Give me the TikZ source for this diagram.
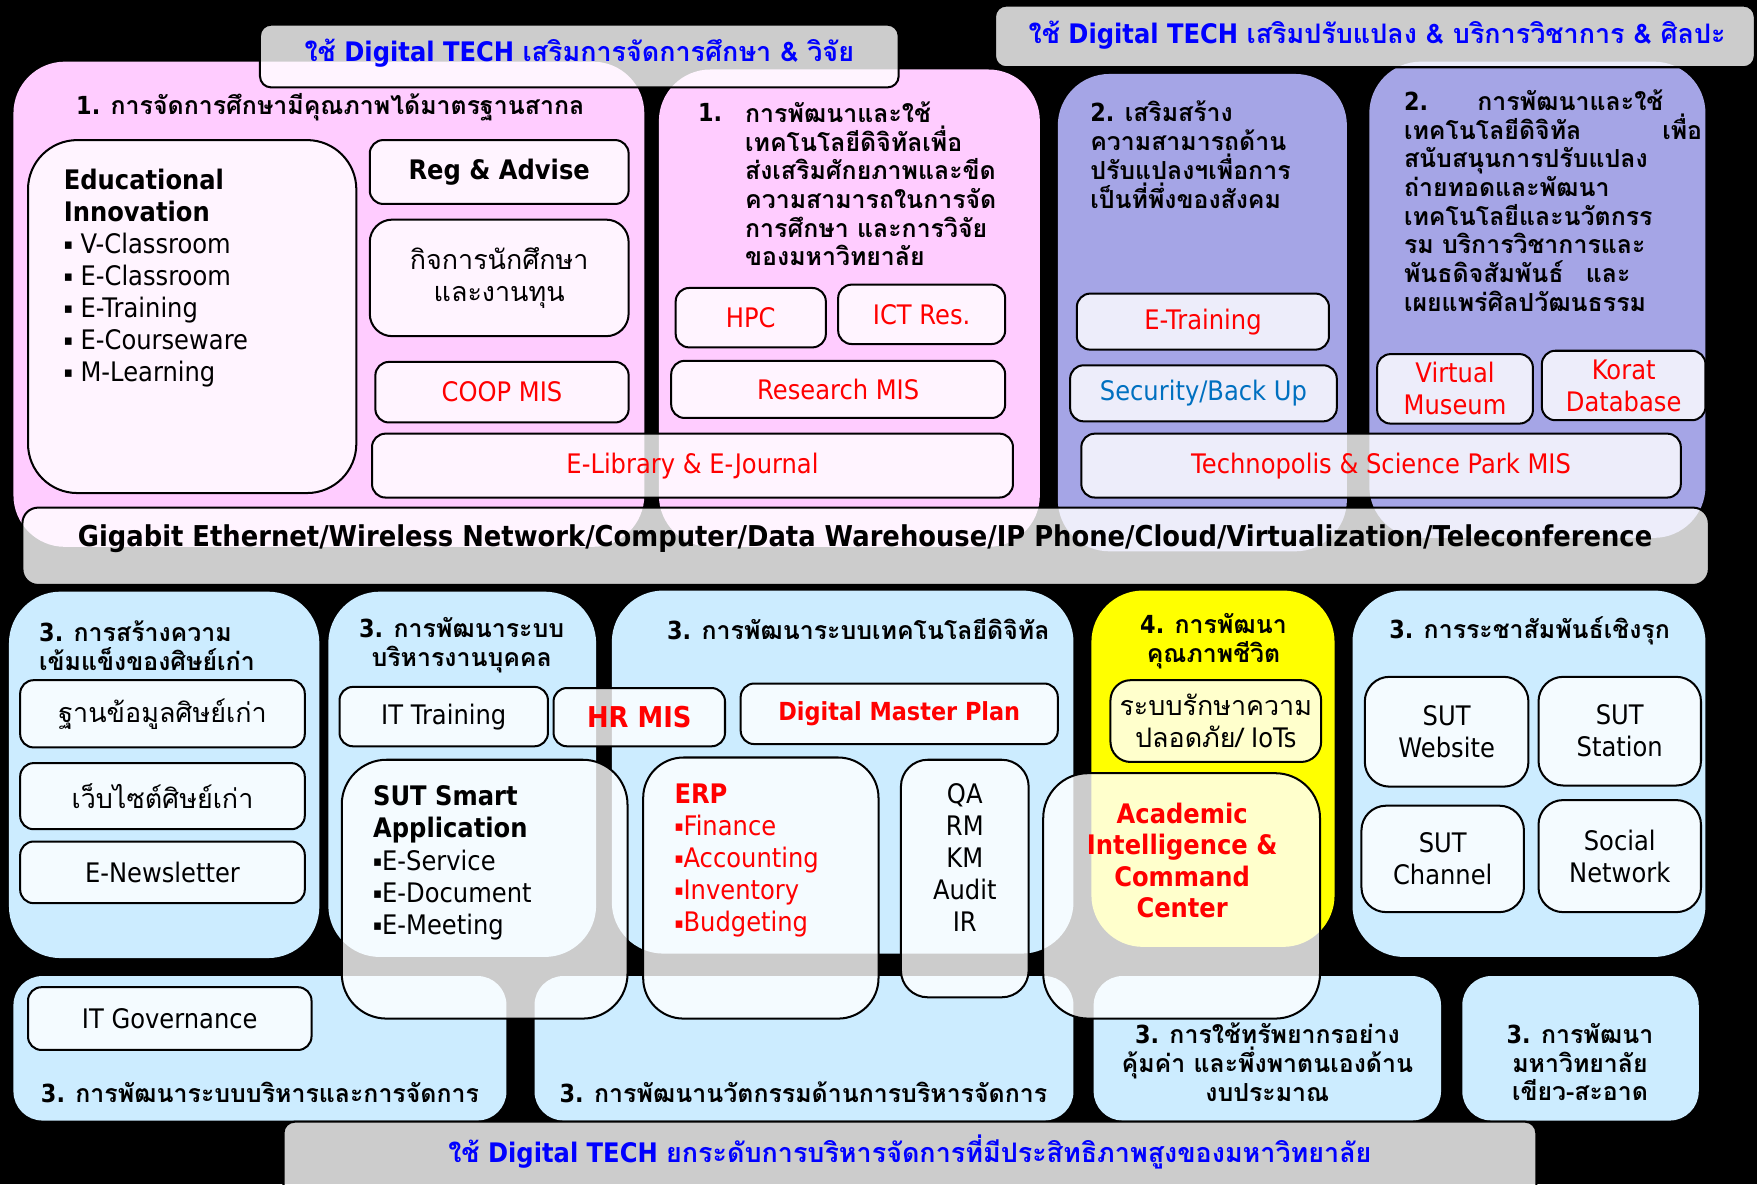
\documentclass[tikz,border=0pt]{standalone}
\usepackage{graphicx}
\usepackage{fontspec}
\setmainfont{DejaVu Sans}[FakeStretch=0.9]
\newfontfamily\thai[Script=Thai]{Loma}
\definecolor{pinkbox}{HTML}{FFCCFF}
\definecolor{lavbox}{HTML}{A5A5E6}
\definecolor{bluebox}{HTML}{CCECFF}
\definecolor{ylwbox}{HTML}{FFFF00}
\definecolor{txtred}{HTML}{FF0000}
\definecolor{txtblue}{HTML}{0000FF}
\definecolor{secblue}{HTML}{0070C0}
\newcommand\bx[7]{\node[#2, minimum width={(#5-#3)*0.5pt}, minimum height={(#6-#4)*0.5pt}] (#1) at ({(#3+#5)/2},{(#4+#6)/2}) {#7};}
\newcommand\fN{\fontsize{12}{14.3}\selectfont}
\newcommand\fT{\fontsize{11.1}{12.8}\selectfont\bfseries}
\newcommand\fB{\fontsize{12}{14}\selectfont\bfseries}
\newcommand\bul{\raisebox{0.25ex}{\scalebox{0.55}{▪}}}
\tikzset{
  every node/.style={inner sep=0pt, outer sep=0pt},
  big/.style={rounded corners=23pt, draw=none},
  wbox/.style={draw=black, line width=0.9pt, fill=white, fill opacity=0.8, draw opacity=1, text opacity=1, rounded corners=6pt, align=center, font=\fN},
  banner/.style={wbox, rounded corners=5pt},
  ttl/.style={font=\fT, align=left},
  body/.style={font=\fN, align=left},
  redt/.style={text=txtred},
}
\begin{document}
\begin{tikzpicture}[x=0.5pt,y=-0.5pt]
\useasboundingbox (0,0) rectangle (1568,1057);
\fill[black] (0,0) rectangle (1568,1057);
% ---------- big coloured boxes
\bx{P1}{big,fill=pinkbox}{12}{55}{575}{488}{}
\bx{P2}{big,fill=pinkbox}{588}{62}{928}{488}{}
\bx{L1}{big,fill=lavbox}{944}{66}{1202}{492}{}
\bx{L2}{big,fill=lavbox}{1222}{55}{1522}{480}{}
\bx{A}{big,fill=bluebox}{8}{528}{285}{855}{}
\bx{B}{big,fill=bluebox}{293}{528}{532}{854}{}
\bx{C}{big,fill=bluebox}{546}{527}{958}{851}{}
\bx{D}{big,fill=ylwbox}{974}{527}{1191}{845}{}
\bx{E}{big,fill=bluebox}{1207}{527}{1522}{854}{}
\bx{F}{big,rounded corners=13pt,fill=bluebox}{12}{871}{452}{1000}{}
\bx{G}{big,rounded corners=13pt,fill=bluebox}{477}{871}{958}{1000}{}
\bx{H}{big,rounded corners=13pt,fill=bluebox}{976}{871}{1286}{1000}{}
\bx{I}{big,rounded corners=13pt,fill=bluebox}{1305}{871}{1516}{1000}{}
% ---------- banners
\bx{bn1}{banner}{232}{22}{802}{78}{}
\bx{bn2}{banner}{888}{5}{1566}{60}{}
% ---------- top inner boxes
\bx{EI}{wbox,rounded corners=22pt}{25}{125}{318}{440}{}
\bx{reg}{wbox,font=\fB}{330}{125}{561}{182}{Reg \& Advise}
\bx{kit}{wbox,rounded corners=10pt,font={\thai\fN}}{330}{196}{561}{300}{กิจการนักศึกษา\\และงานทุน}
\bx{coop}{wbox,redt}{335}{323}{561}{377}{COOP MIS}
\bx{elib}{wbox,redt}{332}{387}{904}{444}{E-Library \& E-Journal}
\bx{hpc}{wbox,redt}{603}{257}{737}{310}{HPC}
\bx{ict}{wbox,redt}{748}{254}{897}{307}{ICT Res.}
\bx{rmis}{wbox,redt}{599}{322}{897}{373}{Research MIS}
\bx{etr}{wbox,redt}{961}{262}{1186}{312}{E-Training}
\bx{sec}{wbox,text=secblue}{955}{326}{1193}{376}{Security/Back Up}
\bx{vm}{wbox,redt}{1229}{316}{1368}{378}{Virtual\\Museum}
\bx{kd}{wbox,redt}{1376}{313}{1522}{375}{Korat\\Database}
\bx{tech}{wbox,redt}{965}{387}{1500}{444}{Technopolis \& Science Park MIS}
% ---------- gigabit bar
\bx{giga}{banner,rounded corners=7pt}{20}{453}{1525}{522}{}
% ---------- lower inner boxes
\bx{al1}{wbox,font={\thai\fN}}{18}{607}{272}{667}{ฐานข้อมูลศิษย์เก่า}
\bx{al2}{wbox,font={\thai\fN}}{18}{681}{272}{740}{เว็บไซต์ศิษย์เก่า}
\bx{al3}{wbox}{18}{751}{272}{806}{E-Newsletter}
\bx{itt}{wbox}{303}{613}{489}{666}{IT Training}
\bx{hr}{wbox,redt,font=\fontsize{12.8}{14}\selectfont\bfseries}{494}{614}{647}{666}{HR MIS}
\bx{dmp}{wbox,redt,font=\fT}{661}{610}{944}{664}{Digital Master Plan}
\bx{safe}{wbox,rounded corners=9pt}{991}{607}{1179}{680}{{\thai ระบบรักษาความ}\\{\thai ปลอดภัย/} IoTs}
\bx{web}{wbox,rounded corners=11pt}{1218}{604}{1364}{702}{SUT\\Website}
\bx{sta}{wbox,rounded corners=11pt}{1373}{604}{1518}{701}{SUT\\Station}
\bx{chan}{wbox,rounded corners=11pt}{1215}{719}{1360}{814}{SUT\\Channel}
\bx{soc}{wbox,rounded corners=11pt}{1373}{714}{1518}{814}{Social\\Network}
\bx{itg}{wbox}{25}{881}{278}{937}{IT Governance}
\bx{suts}{wbox,rounded corners=20pt}{305}{678}{560}{909}{}
\bx{erp}{wbox,rounded corners=18pt}{574}{676}{784}{909}{}
\bx{qa}{wbox,rounded corners=12pt}{804}{678}{918}{890}{}
\bx{aic}{wbox,rounded corners=20pt}{931}{690}{1178}{909}{}
\bx{bnb}{banner}{253}{1001}{1371}{1068}{}
% ---------- texts
\node[font=\fB, text=txtblue] (bn1t) at (517,47) {{\thai ใช้} Digital TECH {\thai เสริมการจัดการศึกษา \& วิจัย}};
\node[font=\fB, text=txtblue] (bn2t) at (1229,31) {{\thai ใช้} Digital TECH {\thai เสริมปรับแปลง \& บริการวิชาการ \& ศิลปะ}};
\node[font=\fB, text=txtblue] (bnbt) at (812,1028) {{\thai ใช้} Digital TECH {\thai ยกระดับการบริหารจัดการที่มีประสิทธิภาพสูงของมหาวิทยาลัย}};
\node[font=\fontsize{12.8}{14}\selectfont\bfseries] (gigat) at (772,481) {Gigabit Ethernet/Wireless Network/Computer/Data Warehouse/IP Phone/Cloud/Virtualization/Teleconference};
\node[ttl, anchor=west] (p1t) at (68,96) {1. {\thai การจัดการศึกษามีคุณภาพได้มาตรฐานสากล}};
\node[body, anchor=west] (eit) at (57,248) {{\bfseries Educational}\\{\bfseries Innovation}\\\bul\ V-Classroom\\\bul\ E-Classroom\\\bul\ E-Training\\\bul\ E-Courseware\\\bul\ M-Learning};
\node[ttl, anchor=west] (p2n) at (623,100) {1.};
\node[ttl, anchor=west, font=\fT\thai] (p2t) at (665,164) {การพัฒนาและใช้\\เทคโนโลยีดิจิทัลเพื่อ\\ส่งเสริมศักยภาพและขีด\\ความสามารถในการจัด\\การศึกษา และการวิจัย\\ของมหาวิทยาลัย};
\node[ttl, anchor=west] (l1t) at (973,138) {2. {\thai เสริมสร้าง}\\{\thai ความสามารถด้าน}\\{\thai ปรับแปลงฯเพื่อการ}\\{\thai เป็นที่พึ่งของสังคม}};
\node[ttl, anchor=west, text width=133pt] (l2t) at (1253,179) {2.\hspace{22pt}{\thai การพัฒนาและใช้}\\{\thai เทคโนโลยีดิจิทัล\hfill เพื่อ}\\{\thai สนับสนุนการปรับแปลง}\\{\thai ถ่ายทอดและพัฒนา}\\{\thai เทคโนโลยีและนวัตกรร}\\{\thai รม บริการวิชาการและ}\\{\thai พันธดิจสัมพันธ์\hspace{10pt}และ}\\{\thai เผยแพร่ศิลปวัฒนธรรม}};
\node[ttl, anchor=west] (at) at (35,576) {3. {\thai การสร้างความ}\\{\thai เข้มแข็งของศิษย์เก่า}};
\node[ttl, align=center] (btt) at (412,576) {3. {\thai การพัฒนาระบบ}\\{\thai บริหารงานบุคคล}};
\node[ttl] (ct) at (766,561) {3. {\thai การพัฒนาระบบเทคโนโลยีดิจิทัล}};
\node[ttl, align=center] (dt) at (1083,572) {4. {\thai การพัฒนา}\\{\thai คุณภาพชีวิต}};
\node[ttl] (et) at (1365,563) {3. {\thai การระชาสัมพันธ์เชิงรุก}};
\node[body, anchor=west] (sutst) at (333,770) {{\bfseries SUT Smart}\\{\bfseries Application}\\\bul E-Service\\\bul E-Document\\\bul E-Meeting};
\node[body, anchor=west, redt] (erpt) at (602,768) {{\bfseries ERP}\\\bul Finance\\\bul Accounting\\\bul Inventory\\\bul Budgeting};
\node[body, align=center] (qat) at (861,765) {QA\\RM\\KM\\Audit\\IR};
\node[font=\fB, align=center, redt] (aict) at (1055,768) {Academic\\Intelligence \&\\Command\\Center};
\node[ttl] (ft) at (232,975) {3. {\thai การพัฒนาระบบบริหารและการจัดการ}};
\node[ttl] (gt) at (717,975) {3. {\thai การพัฒนานวัตกรรมด้านการบริหารจัดการ}};
\node[ttl, align=center] (ht) at (1131,948) {3. {\thai การใช้ทรัพยากรอย่าง}\\{\thai คุ้มค่า และพึ่งพาตนเองด้าน}\\{\thai งบประมาณ}};
\node[ttl, align=center] (it) at (1410,948) {3. {\thai การพัฒนา}\\{\thai มหาวิทยาลัย}\\{\thai เขียว-สะอาด}};
\end{tikzpicture}
\end{document}
